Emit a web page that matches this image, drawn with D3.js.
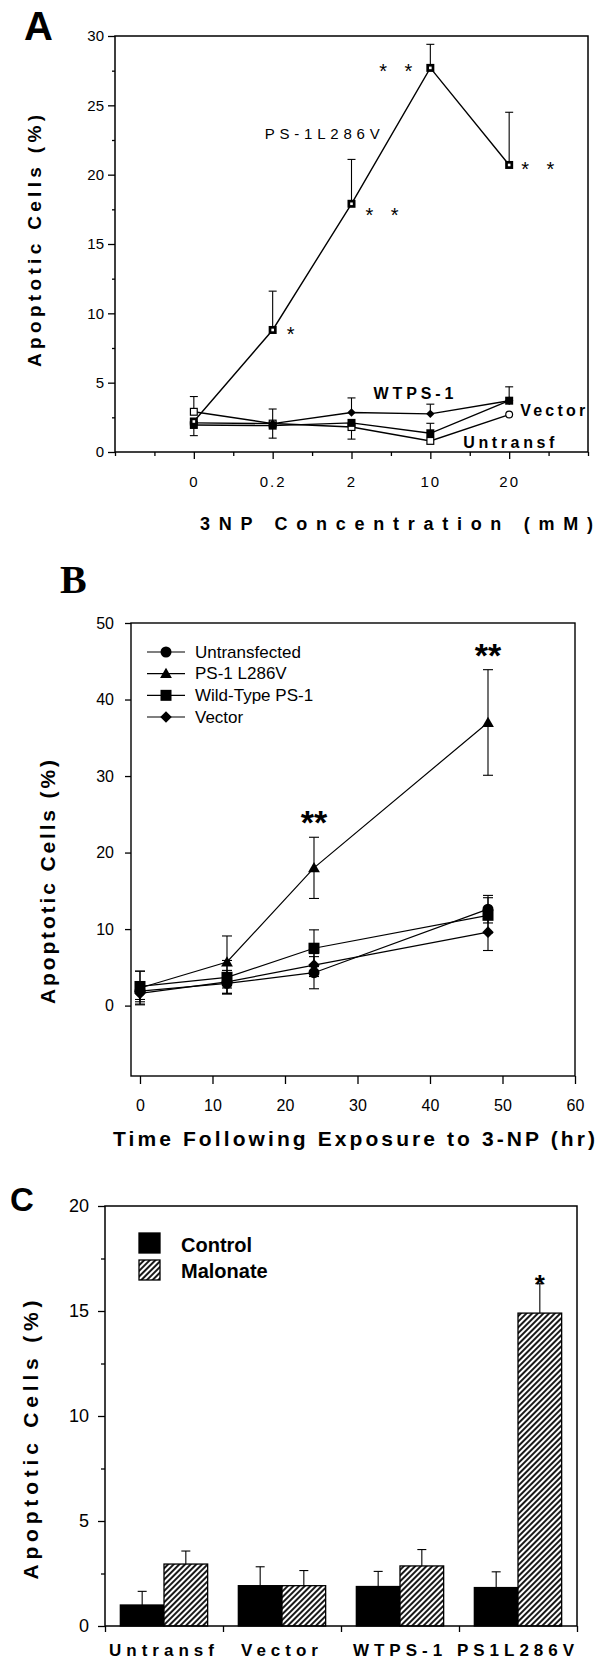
<!DOCTYPE html>
<html>
<head>
<meta charset="utf-8">
<script src="https://cdn.jsdelivr.net/npm/d3@7"></script>
<style>
  body { margin: 0; background: #fff; }
  svg { display: block; font-family: "Liberation Sans", Arial, Helvetica, sans-serif; }
</style>
</head>
<body>
<div id="chart"></div>
<script>
// ---------- data ----------
// panel A : % apoptotic cells vs 3NP concentration (mM)
const concLabels = ["0", "0.2", "2", "10", "20"];
const aYTicks = [0, 5, 10, 15, 20, 25, 30];
const aPS1 = [2.2, 8.8, 17.9, 27.7, 20.7];
const aPS1Up = [0, 2.8, 3.2, 1.7, 3.8];
const aWTPS1 = [2.1, 2.05, 2.85, 2.75, 3.7];
const aWTPS1Up = [0, 0, 1.05, 0.7, 0];
const aVector = [1.95, 1.9, 2.1, 1.35, 3.7];
const aVectorUp = [0, 1.2, 0, 0.72, 1.0];
const aVectorDown = [0.77, 0.9, 0, 0, 0];
const aUntransf = [2.9, 2.05, 1.8, 0.8, 2.7];
const aUntransfUp = [1.1, 0, 0, 0, 0];
const aUntransfDown = [0, 0, 0.87, 0, 0];

// panel B : time course after 3-NP (hr)
const hours = [0, 12, 24, 48];
const bXTicks = [0, 10, 20, 30, 40, 50, 60];
const bYTicks = [0, 10, 20, 30, 40, 50];
const bNames = ["Untransfected", "PS-1 L286V", "Wild-Type PS-1", "Vector"];
const bUntransfected = [1.9, 2.9, 4.3, 12.6];
const bUntransfectedErr = [1.1, 1.3, 2.1, 1.8];
const bPS1 = [2.3, 5.7, 18.0, 37.0];
const bPS1Err = [2.2, 3.4, 4.0, 6.9];
const bWildType = [2.5, 3.7, 7.5, 11.8];
const bWildTypeErr = [2.0, 2.2, 2.4, 2.3];
const bVector = [1.6, 3.1, 5.3, 9.6];
const bVectorErr = [1.4, 1.5, 1.5, 2.4];

// panel C : malonate
const groups = ["Untransf", "Vector", "WTPS-1", "PS1L286V"];
const treatments = ["Control", "Malonate"];
const cYTicks = [0, 5, 10, 15, 20];
const cControl = [1.0, 1.92, 1.88, 1.83];
const cControlErr = [0.65, 0.9, 0.72, 0.75];
const cMalonate = [2.95, 1.92, 2.86, 14.9];
const cMalonateErr = [0.62, 0.72, 0.78, 1.4];

// ---------- svg ----------
const W = 598, H = 1664;
const svg = d3.select("#chart").append("svg")
    .attr("width", W)
    .attr("height", H);
svg.append("rect").attr("width", W).attr("height", H).attr("fill", "#fff");

// diagonal hatch for malonate bars
const pat = svg.append("defs").append("pattern")
    .attr("id", "hatch")
    .attr("patternUnits", "userSpaceOnUse")
    .attr("width", 4).attr("height", 10)
    .attr("patternTransform", "rotate(45)");
pat.append("rect").attr("width", 4).attr("height", 10).attr("fill", "#fff");
pat.append("line").attr("x1", 1).attr("y1", 0).attr("x2", 1).attr("y2", 10)
    .attr("stroke", "#000").attr("stroke-width", 1.8);

// marker helper
function marker(g, type, cx, cy, s) {
  if (type === "psq") {
    g.append("rect").attr("x", cx - s/2).attr("y", cy - s/2).attr("width", s).attr("height", s).attr("fill", "#000");
    g.append("rect").attr("x", cx - 1.3).attr("y", cy - 1.3).attr("width", 2.6).attr("height", 2.6).attr("fill", "#fff");
  } else if (type === "sq") {
    g.append("rect").attr("x", cx - s/2).attr("y", cy - s/2).attr("width", s).attr("height", s).attr("fill", "#000");
  } else if (type === "osq") {
    g.append("rect").attr("x", cx - s/2 + 0.6).attr("y", cy - s/2 + 0.6).attr("width", s - 1.2).attr("height", s - 1.2)
      .attr("fill", "#fff").attr("stroke", "#000").attr("stroke-width", 1.2);
  } else if (type === "oci") {
    g.append("circle").attr("cx", cx).attr("cy", cy).attr("r", s/2 - 0.6)
      .attr("fill", "#fff").attr("stroke", "#000").attr("stroke-width", 1.2);
  } else if (type === "ci") {
    g.append("circle").attr("cx", cx).attr("cy", cy).attr("r", s/2).attr("fill", "#000");
  } else if (type === "dia") {
    g.append("path").attr("d", d3.symbol(d3.symbolSquare, s * s * 0.55)())
      .attr("transform", `translate(${cx},${cy}) rotate(45)`).attr("fill", "#000");
  } else if (type === "tri") {
    g.append("path").attr("d", d3.symbol(d3.symbolTriangle, s * s * 0.5)())
      .attr("transform", `translate(${cx},${cy + 1})`).attr("fill", "#000");
  }
}

function errBar(g, x, y0, y1, cap) {
  g.append("line").attr("x1", x).attr("x2", x).attr("y1", y0).attr("y2", y1)
    .attr("stroke", "#000").attr("stroke-width", 1.1);
  g.append("line").attr("x1", x - cap/2).attr("x2", x + cap/2).attr("y1", y1).attr("y2", y1)
    .attr("stroke", "#000").attr("stroke-width", 1.1);
}

function styleAxis(sel, size) {
  sel.select(".domain").remove();
  sel.selectAll(".tick line").attr("stroke", "#000").attr("stroke-width", 1.3);
  sel.selectAll(".tick text").attr("fill", "#000").style("font-size", size + "px");
}

// ================= Panel A =================
{
  const left = 115, right = 588, top = 36, bottom = 452;
  const g = svg.append("g");

  const y = d3.scaleLinear().domain([0, 30]).range([bottom, top]);
  const x = d3.scalePoint().domain(concLabels).range([left, right]).padding(1);
  const xi = d3.scaleLinear().domain([-1, concLabels.length]).range([left, right]);

  g.append("text").attr("x", 24).attr("y", 40).text("A")
    .style("font-size", "40px").style("font-weight", "bold");

  // y axis
  g.append("g").attr("transform", `translate(${left},0)`)
    .call(d3.axisLeft(y).tickValues(aYTicks).tickSize(7).tickPadding(4))
    .call(s => styleAxis(s, 15));
  g.append("g").attr("transform", `translate(${left},0)`)
    .call(d3.axisLeft(y).tickValues(aYTicks.slice(1).map(v => v - 2.5)).tickSize(3).tickFormat(""))
    .call(s => styleAxis(s, 15));

  // x axis
  g.append("g").attr("transform", `translate(0,${bottom})`)
    .call(d3.axisBottom(x).tickSize(7).tickPadding(17))
    .call(s => styleAxis(s, 15))
    .selectAll(".tick text").style("letter-spacing", "2px");
  const minor = d3.range(-1, concLabels.length + 0.01, 0.5).filter(v => v < 0 || v > concLabels.length - 1 || v % 1 !== 0);
  g.append("g").attr("transform", `translate(0,${bottom})`)
    .call(d3.axisBottom(xi).tickValues(minor).tickSize(4).tickFormat(""))
    .call(s => styleAxis(s, 15));

  // frame
  g.append("rect").attr("x", left).attr("y", top).attr("width", right - left).attr("height", bottom - top)
    .attr("fill", "none").attr("stroke", "#000").attr("stroke-width", 1.5);

  // axis titles
  g.append("text")
    .attr("transform", `translate(34,${(115 + 367) / 2}) rotate(-90)`)
    .attr("text-anchor", "middle").attr("dominant-baseline", "central")
    .attr("textLength", 252).attr("lengthAdjust", "spacing")
    .style("font-size", "19px").style("font-weight", "bold")
    .text("Apoptotic Cells (%)");
  g.append("text").attr("x", 200).attr("y", 530)
    .attr("textLength", 393).attr("lengthAdjust", "spacing")
    .style("font-size", "18px").style("font-weight", "bold")
    .text("3NP Concentration (mM)");

  const series = [
    {vals: aUntransf, up: aUntransfUp, down: aUntransfDown, mk: i => i === concLabels.length - 1 ? "oci" : "osq"},
    {vals: aVector, up: aVectorUp, down: aVectorDown, mk: () => "sq"},
    {vals: aWTPS1, up: aWTPS1Up, down: null, mk: () => "dia"},
    {vals: aPS1, up: aPS1Up, down: null, mk: () => "psq"}
  ];
  const line = d3.line().x((d, i) => x(concLabels[i])).y(d => y(d));

  series.forEach(s => {
    s.vals.forEach((v, i) => {
      if (s.up && s.up[i] > 0) errBar(g, x(concLabels[i]), y(v), y(v + s.up[i]), 8);
      if (s.down && s.down[i] > 0) errBar(g, x(concLabels[i]), y(v), y(v - s.down[i]), 8);
    });
  });
  series.forEach(s => {
    g.append("path").datum(s.vals).attr("d", line)
      .attr("fill", "none").attr("stroke", "#000").attr("stroke-width", 1.4);
  });
  series.forEach(s => {
    s.vals.forEach((v, i) => marker(g, s.mk(i), x(concLabels[i]), y(v), 8));
  });

  // series labels
  g.append("text").attr("x", x("0.2") - 8).attr("y", y(23)).attr("dominant-baseline", "central")
    .attr("textLength", 115).attr("lengthAdjust", "spacing")
    .style("font-size", "15px").text("PS-1L286V");
  g.append("text").attr("x", x("2") + 22).attr("y", y(4.25)).attr("dominant-baseline", "central")
    .attr("textLength", 80).attr("lengthAdjust", "spacing")
    .style("font-size", "16px").style("font-weight", "bold").text("WTPS-1");
  g.append("text").attr("x", x("20") + 11).attr("y", y(3.0)).attr("dominant-baseline", "central")
    .attr("textLength", 65).attr("lengthAdjust", "spacing")
    .style("font-size", "16px").style("font-weight", "bold").text("Vector");
  g.append("text").attr("x", x("10") + 33).attr("y", y(0.7)).attr("dominant-baseline", "central")
    .attr("textLength", 91).attr("lengthAdjust", "spacing")
    .style("font-size", "16px").style("font-weight", "bold").text("Untransf");

  // significance stars
  const star = (xx, v, txt, anchor) => g.append("text")
    .attr("x", xx).attr("y", y(v) + 11).attr("text-anchor", anchor)
    .style("font-size", "20px").style("letter-spacing", "6px").text(txt);
  star(x("0.2") + 14, aPS1[1], "*", "start");
  star(x("2") + 14, aPS1[2] - 0.5, "* *", "start");
  star(x("10") - 12, aPS1[3] + 0.1, "* *", "end");
  star(x("20") + 12, aPS1[4], "* *", "start");
}

// ================= Panel B =================
{
  const left = 131, right = 575, top = 623, bottom = 1076;
  const g = svg.append("g");

  const y = d3.scaleLinear().domain([-9.2, 50]).range([bottom, top]);
  const x = d3.scaleLinear().domain([-1.24, 60]).range([left, right]);

  g.append("text").attr("x", 60).attr("y", 593).text("B")
    .style("font-family", "'Liberation Serif', 'Times New Roman', serif")
    .style("font-size", "40px").style("font-weight", "bold");

  g.append("g").attr("transform", `translate(${left},0)`)
    .call(d3.axisLeft(y).tickValues(bYTicks).tickSize(6).tickPadding(11))
    .call(s => styleAxis(s, 16));
  g.append("g").attr("transform", `translate(0,${bottom})`)
    .call(d3.axisBottom(x).tickValues(bXTicks).tickSize(8).tickPadding(16))
    .call(s => styleAxis(s, 16));

  g.append("rect").attr("x", left).attr("y", top).attr("width", right - left).attr("height", bottom - top)
    .attr("fill", "none").attr("stroke", "#000").attr("stroke-width", 1.4);

  g.append("text")
    .attr("transform", `translate(47,882) rotate(-90)`)
    .attr("text-anchor", "middle").attr("dominant-baseline", "central")
    .attr("textLength", 244).attr("lengthAdjust", "spacing")
    .style("font-size", "21px").style("font-weight", "bold")
    .text("Apoptotic Cells (%)");
  g.append("text").attr("x", 113).attr("y", 1146)
    .attr("textLength", 482).attr("lengthAdjust", "spacing")
    .style("font-size", "21px").style("font-weight", "bold")
    .text("Time Following Exposure to 3-NP (hr)");

  const series = [
    {name: bNames[0], vals: bUntransfected, err: bUntransfectedErr, mk: "ci"},
    {name: bNames[1], vals: bPS1, err: bPS1Err, mk: "tri"},
    {name: bNames[2], vals: bWildType, err: bWildTypeErr, mk: "sq"},
    {name: bNames[3], vals: bVector, err: bVectorErr, mk: "dia"}
  ];
  const line = d3.line().x((d, i) => x(hours[i])).y(d => y(d));

  series.forEach(s => s.vals.forEach((v, i) => {
    errBar(g, x(hours[i]), y(v), y(v + s.err[i]), 10);
    errBar(g, x(hours[i]), y(v), y(v - s.err[i]), 10);
  }));
  series.forEach(s => g.append("path").datum(s.vals).attr("d", line)
    .attr("fill", "none").attr("stroke", "#000").attr("stroke-width", 1.2));
  series.forEach(s => s.vals.forEach((v, i) => marker(g, s.mk, x(hours[i]), y(v), 11)));

  // legend
  const ly = d3.scalePoint().domain(bNames).range([652, 717]);
  series.forEach(s => {
    g.append("line").attr("x1", 147).attr("x2", 185).attr("y1", ly(s.name)).attr("y2", ly(s.name))
      .attr("stroke", "#000").attr("stroke-width", 1.2);
    marker(g, s.mk, 166, ly(s.name), 11);
    g.append("text").attr("x", 195).attr("y", ly(s.name)).attr("dominant-baseline", "central")
      .style("font-size", "17px").text(s.name);
  });

  // stars
  [[24, bPS1[2] + bPS1Err[2]], [48, bPS1[3] + bPS1Err[3]]].forEach(([h, v]) => {
    g.append("text").attr("x", x(h)).attr("y", y(v) - 3).attr("text-anchor", "middle")
      .style("font-size", "34px").style("font-weight", "bold").text("**");
  });
}

// ================= Panel C =================
{
  const left = 105, right = 577, top = 1206, bottom = 1626;
  const g = svg.append("g");

  const y = d3.scaleLinear().domain([0, 20]).range([bottom, top]);
  const x0 = d3.scaleBand().domain(groups).range([left, right]).paddingInner(0.26).paddingOuter(0.13);
  const x1 = d3.scaleBand().domain(treatments).range([0, x0.bandwidth()]);
  const gx = d3.scaleLinear().domain([0, groups.length]).range([left, right]);

  g.append("text").attr("x", 10).attr("y", 1211).text("C")
    .style("font-size", "33px").style("font-weight", "bold");

  g.append("g").attr("transform", `translate(${left},0)`)
    .call(d3.axisLeft(y).tickValues(cYTicks).tickSize(7).tickPadding(9))
    .call(s => styleAxis(s, 18));
  g.append("g").attr("transform", `translate(${left},0)`)
    .call(d3.axisLeft(y).tickValues(cYTicks.slice(1).map(v => v - 2.5)).tickSize(4).tickFormat(""))
    .call(s => styleAxis(s, 18));
  g.append("g").attr("transform", `translate(0,${bottom})`)
    .call(d3.axisBottom(gx).tickValues(d3.range(0, groups.length + 1)).tickSize(6).tickFormat(""))
    .call(s => styleAxis(s, 18));

  // bars
  const rows = groups.map((grp, i) => [
    {grp, t: treatments[0], v: cControl[i], e: cControlErr[i]},
    {grp, t: treatments[1], v: cMalonate[i], e: cMalonateErr[i]}
  ]).flat();

  rows.forEach(d => errBar(g, x0(d.grp) + x1(d.t) + x1.bandwidth() / 2, y(d.v), y(d.v + d.e), 9));

  g.selectAll("rect.bar").data(rows).join("rect")
    .attr("class", "bar")
    .attr("x", d => x0(d.grp) + x1(d.t))
    .attr("y", d => y(d.v))
    .attr("width", x1.bandwidth())
    .attr("height", d => bottom - y(d.v))
    .attr("fill", d => d.t === "Control" ? "#000" : "url(#hatch)")
    .attr("stroke", "#000").attr("stroke-width", 1.3);

  g.append("rect").attr("x", left).attr("y", top).attr("width", right - left).attr("height", bottom - top)
    .attr("fill", "none").attr("stroke", "#000").attr("stroke-width", 1.5);

  // group labels
  groups.forEach(grp => g.append("text")
    .attr("x", x0(grp) + x0.bandwidth() / 2).attr("y", 1656).attr("text-anchor", "middle")
    .style("font-size", "17px").style("font-weight", "bold").style("letter-spacing", "5px")
    .text(grp));

  // star over PS1L286V malonate
  const last = rows[rows.length - 1];
  g.append("text").attr("x", x0(last.grp) + x1(last.t) + x1.bandwidth() / 2).attr("y", y(last.v + last.e) + 9)
    .attr("text-anchor", "middle").style("font-size", "26px").style("font-weight", "bold").text("*");

  // legend
  treatments.forEach((t, i) => {
    g.append("rect").attr("x", 139).attr("y", 1233 + i * 27).attr("width", 21).attr("height", 20)
      .attr("fill", t === "Control" ? "#000" : "url(#hatch)").attr("stroke", "#000").attr("stroke-width", 1.3);
    g.append("text").attr("x", 181).attr("y", 1252 + i * 26)
      .style("font-size", "20px").style("font-weight", "bold").text(t);
  });

  g.append("text")
    .attr("transform", `translate(30,1440) rotate(-90)`)
    .attr("text-anchor", "middle").attr("dominant-baseline", "central")
    .attr("textLength", 279).attr("lengthAdjust", "spacing")
    .style("font-size", "21px").style("font-weight", "bold")
    .text("Apoptotic Cells (%)");
}
</script>
</body>
</html>
